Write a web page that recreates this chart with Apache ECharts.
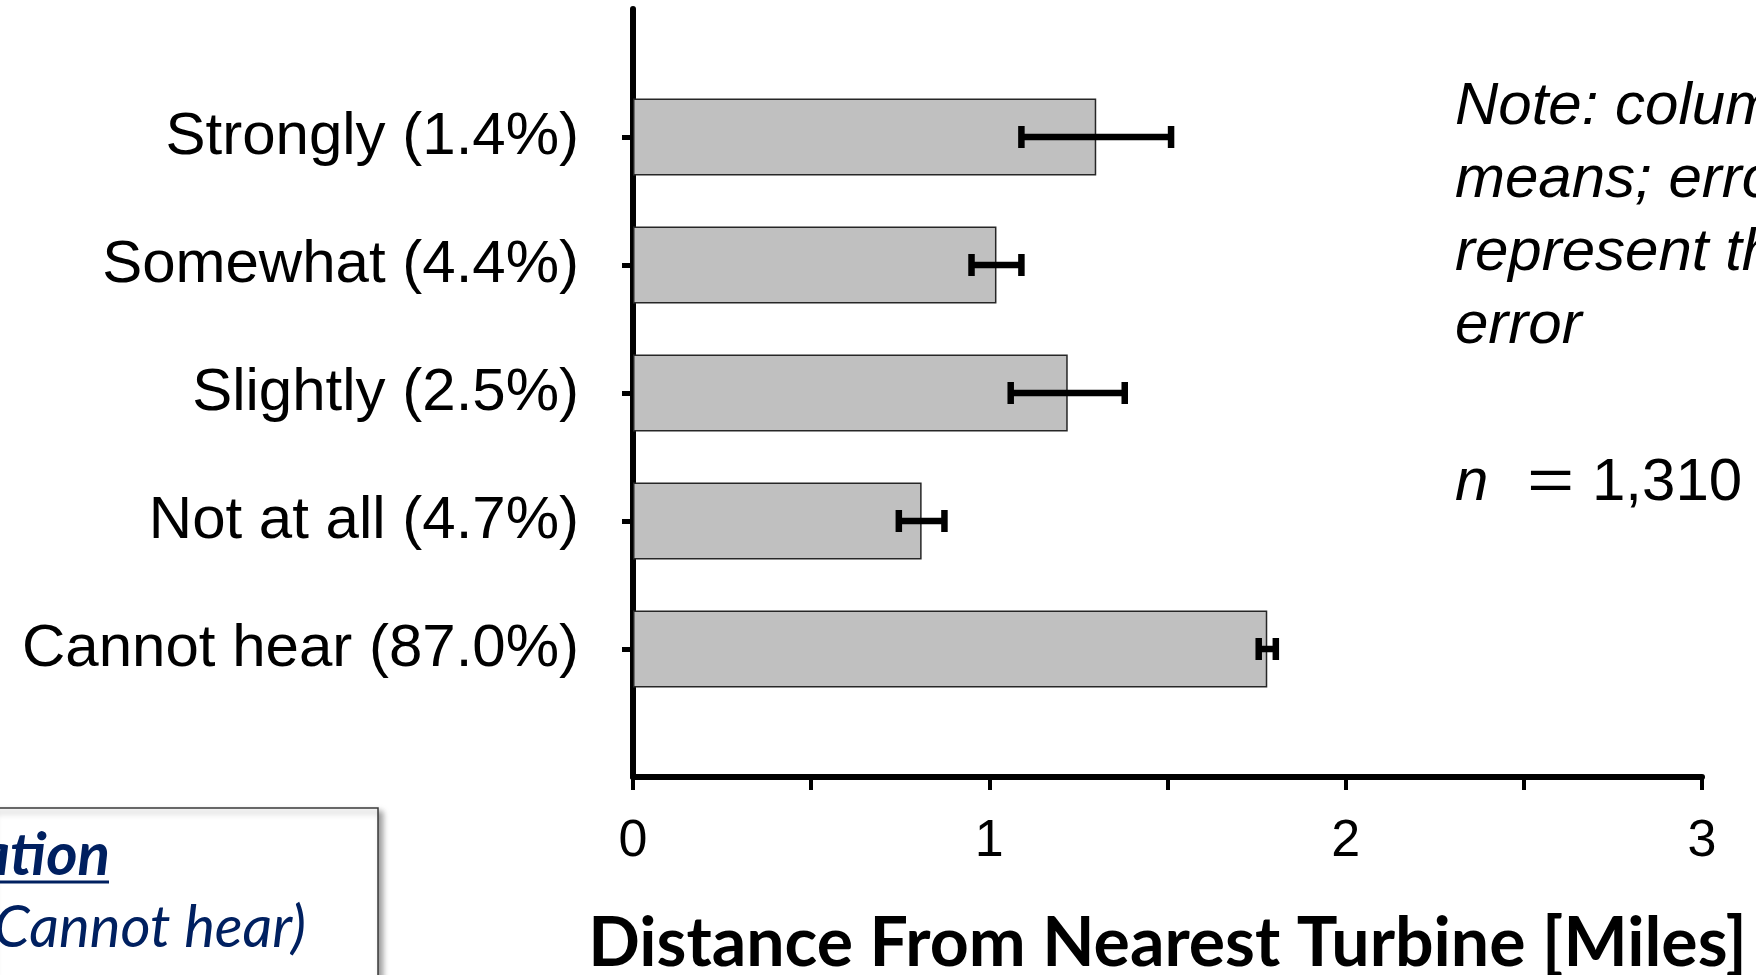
<!DOCTYPE html>
<html>
<head>
<meta charset="utf-8">
<title>Distance From Nearest Turbine</title>
<script src="https://cdn.jsdelivr.net/npm/echarts@6/dist/echarts.min.js"></script>
<style>
  html, body { margin: 0; padding: 0; background: #fff; }
  #chart { width: 1756px; height: 975px; }
</style>
</head>
<body>
<div id="chart"></div>
<script>
// data (top to bottom)
var categories = ['Strongly (1.4%)', 'Somewhat (4.4%)', 'Slightly (2.5%)', 'Not at all (4.7%)', 'Cannot hear (87.0%)'];
var meanMiles = [1.30, 1.02, 1.22, 0.81, 1.78];
var stdErr = [0.21, 0.07, 0.16, 0.064, 0.024];
var xTickLabels = [0, 1, 2, 3];

// blank slot at both ends of the category axis, like the original
var axisCats = [''].concat(categories, ['']);
var barData = [null].concat(meanMiles, [null]);
var errData = categories.map(function (c, i) { return [i + 1, meanMiles[i], stdErr[i]]; });

var arial = '"Liberation Sans", Arial, sans-serif';
var chart = echarts.init(document.getElementById('chart'));

chart.setOption({
  animation: false,
  grid: { left: 633, top: 9, width: 1069, height: 768, containLabel: false, outerBoundsMode: 'none' },
  xAxis: {
    type: 'value',
    min: 0, max: 3, interval: 0.5,
    splitLine: { show: false },
    axisLine: { show: true, lineStyle: { color: '#000', width: 6 } },
    axisTick: { show: true, length: 13, lineStyle: { color: '#000', width: 4 } },
    axisLabel: {
      margin: 39,
      fontFamily: arial,
      fontSize: 52,
      color: '#000',
      formatter: function (v) { return xTickLabels.indexOf(v) >= 0 ? String(v) : ''; }
    },
    name: 'Distance From Nearest Turbine [Miles]',
    nameLocation: 'middle',
    nameGap: 133,
    nameTextStyle: { fontFamily: 'Lato, "Open Sans", sans-serif', fontWeight: 'bold', fontSize: 68, color: '#000' }
  },
  yAxis: {
    type: 'category',
    data: axisCats,
    inverse: true,
    boundaryGap: false,
    axisLine: { show: true, lineStyle: { color: '#000', width: 6 } },
    axisTick: {
      show: true, length: 11,
      interval: function (idx) { return idx > 0 && idx < axisCats.length - 1; },
      lineStyle: { color: '#000', width: 5 }
    },
    axisLabel: {
      margin: 54,
      fontFamily: arial,
      fontSize: 60,
      color: '#000'
    },
    splitLine: { show: false }
  },
  series: [
    {
      name: 'mean',
      type: 'bar',
      data: barData,
      barWidth: 77,
      itemStyle: { color: '#C0C0C0', borderColor: '#262626', borderWidth: 1.5 }
    },
    {
      name: 'standard error',
      type: 'custom',
      data: errData,
      encode: { x: 1, y: 0 },
      z: 5,
      renderItem: function (params, api) {
        var cat = api.value(0), m = api.value(1), e = api.value(2);
        var lo = api.coord([m - e, cat]);
        var hi = api.coord([m + e, cat]);
        var h = 11;
        var st = { stroke: '#000', lineWidth: 6.5 };
        return {
          type: 'group',
          children: [
            { type: 'line', shape: { x1: lo[0], y1: lo[1], x2: hi[0], y2: hi[1] }, style: st },
            { type: 'line', shape: { x1: lo[0], y1: lo[1] - h, x2: lo[0], y2: lo[1] + h }, style: st },
            { type: 'line', shape: { x1: hi[0], y1: hi[1] - h, x2: hi[0], y2: hi[1] + h }, style: st }
          ]
        };
      }
    }
  ],
  graphic: [
    {
      type: 'text', x: 1455, y: 71, z: 10,
      style: {
        text: 'Note: column\nmeans; error bars\nrepresent the standard\nerror',
        font: 'italic 60px ' + arial,
        lineHeight: 73, fill: '#000', verticalAlign: 'top'
      }
    },
    {
      type: 'text', x: 1455, y: 483, z: 10,
      style: { text: 'n', font: 'italic 60px ' + arial, fill: '#000', verticalAlign: 'middle' }
    },
    {
      type: 'text', x: 1527, y: 483, z: 10, scaleX: 1.35,
      style: { text: '=', font: '60px ' + arial, fill: '#000', verticalAlign: 'middle' }
    },
    {
      type: 'text', x: 1592, y: 483, z: 10,
      style: { text: '1,310', font: '60px ' + arial, fill: '#000', verticalAlign: 'middle' }
    },
    // clipped text box at the bottom left
    {
      type: 'rect', z: 10,
      shape: { x: -10, y: 808, width: 388, height: 220 },
      style: {
        fill: '#fff', stroke: '#3a3a3a', lineWidth: 1.5,
        shadowBlur: 6, shadowColor: 'rgba(0,0,0,0.4)', shadowOffsetX: 4, shadowOffsetY: 4
      }
    },
    {
      type: 'text', x: 110, y: 856, z: 11,
      style: {
        text: 'ation', font: 'italic bold 60px Lato, sans-serif',
        fill: '#002060', align: 'right', verticalAlign: 'middle'
      }
    },
    {
      type: 'line', z: 11,
      shape: { x1: -10, y1: 882, x2: 109, y2: 882 },
      style: { stroke: '#002060', lineWidth: 3 }
    },
    {
      type: 'text', x: 306, y: 928, z: 11,
      style: {
        text: '(Cannot hear)', font: 'italic 58px Lato, sans-serif',
        fill: '#002060', align: 'right', verticalAlign: 'middle'
      }
    }
  ]
});
</script>
</body>
</html>
